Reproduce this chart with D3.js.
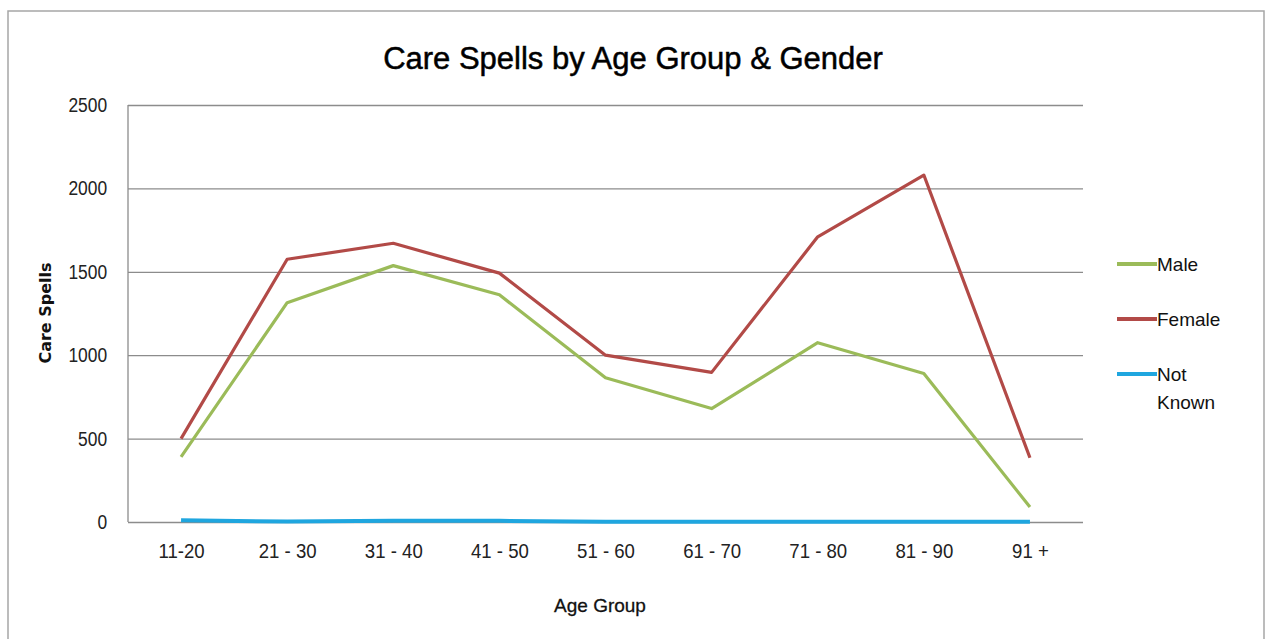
<!DOCTYPE html>
<html>
<head>
<meta charset="utf-8">
<script src="https://cdn.jsdelivr.net/npm/d3@7"></script>
<style>
  html, body { margin: 0; padding: 0; background: #fff; }
  svg { display: block; }
</style>
</head>
<body>
<div id="chart"></div>
<script>
// Care spells by age group and gender
var ageGroups = ['11-20', '21 - 30', '31 - 40', '41 - 50', '51 - 60', '61 - 70', '71 - 80', '81 - 90', '91 +'];
var male = [390, 1315, 1537, 1362, 865, 680, 1075, 890, 90];
var female = [500, 1575, 1671, 1492, 1000, 897, 1710, 2080, 385];
var notKnown = [10, 3, 8, 7, 2, 2, 2, 2, 2];
var yTicks = [0, 500, 1000, 1500, 2000, 2500];
var seriesNames = ['Male', 'Female', 'Not Known'];

var series = [
  { name: seriesNames[0], values: male, color: '#9bbb59' },
  { name: seriesNames[1], values: female, color: '#b24a47' },
  { name: seriesNames[2], values: notKnown, color: '#1fa6df' }
];

var width = 1266, height = 639;
var margin = { top: 105, right: 183, bottom: 117, left: 128 };
var font = '"Liberation Sans", Arial, sans-serif';

var svg = d3.select('#chart').append('svg')
  .attr('width', width)
  .attr('height', height);

// outer chart border
svg.append('rect')
  .attr('x', 8).attr('y', 11)
  .attr('width', 1256).attr('height', 660)
  .attr('fill', '#fff')
  .attr('stroke', '#a6a6a6')
  .attr('stroke-width', 1.5);

var x = d3.scalePoint().domain(ageGroups).range([margin.left, width - margin.right]).padding(0.5);
var y = d3.scaleLinear().domain([0, 2500]).range([height - margin.bottom, margin.top]);

// gridlines + y tick labels (narrowed to look like the condensed original)
svg.append('g')
  .attr('transform', 'translate(' + margin.left + ',0)')
  .call(d3.axisLeft(y).tickValues(yTicks).tickSize(-(width - margin.left - margin.right)).tickPadding(24).tickFormat(d3.format('d')))
  .call(function (g) { g.select('.domain').remove(); })
  .call(function (g) { g.selectAll('line').attr('stroke', '#8c8c8c').attr('stroke-width', 1.3); })
  .call(function (g) {
    g.selectAll('text').attr('font-family', font).attr('font-size', 20).attr('fill', '#222')
      .attr('transform', 'scale(0.87,1)');
  });

// left axis line
svg.append('line')
  .attr('x1', margin.left).attr('x2', margin.left)
  .attr('y1', y(2500)).attr('y2', y(0))
  .attr('stroke', '#8c8c8c').attr('stroke-width', 1.3);

// x axis labels
svg.append('g')
  .attr('transform', 'translate(0,' + (height - margin.bottom) + ')')
  .call(d3.axisBottom(x).tickSize(0).tickPadding(22))
  .call(function (g) { g.select('.domain').remove(); })
  .call(function (g) {
    g.selectAll('text').attr('font-family', font).attr('font-size', 20).attr('fill', '#222')
      .attr('transform', 'scale(0.93,1)');
  });

// lines
var line = d3.line()
  .x(function (d, i) { return x(ageGroups[i]); })
  .y(function (d) { return y(d); });

svg.selectAll('.series')
  .data(series)
  .join('path')
  .attr('class', 'series')
  .attr('fill', 'none')
  .attr('stroke', function (d) { return d.color; })
  .attr('stroke-width', function (d) { return d.name === 'Not Known' ? 4 : 3.2; })
  .attr('stroke-linejoin', 'round')
  .attr('d', function (d) { return line(d.values); });

// title
svg.append('text')
  .attr('x', 633).attr('y', 69)
  .attr('text-anchor', 'middle')
  .attr('font-family', font)
  .attr('font-size', 31)
  .attr('fill', '#000')
  .attr('stroke', '#000')
  .attr('stroke-width', 0.5)
  .text('Care Spells by Age Group & Gender');

// axis titles
svg.append('text')
  .attr('transform', 'translate(51,313) rotate(-90)')
  .attr('text-anchor', 'middle')
  .attr('font-family', '"DejaVu Sans", Verdana, sans-serif')
  .attr('font-weight', 'bold')
  .attr('font-size', 16)
  .attr('fill', '#111')
  .text('Care Spells');

svg.append('text')
  .attr('x', 600).attr('y', 612)
  .attr('text-anchor', 'middle')
  .attr('font-family', font)
  .attr('font-size', 19)
  .attr('fill', '#111')
  .attr('stroke', '#111')
  .attr('stroke-width', 0.3)
  .text('Age Group');

// legend
var legend = svg.append('g').attr('transform', 'translate(1117,264)');
series.forEach(function (s, i) {
  var row = legend.append('g').attr('transform', 'translate(0,' + (i * 55) + ')');
  row.append('line').attr('x1', 0).attr('x2', 40).attr('y1', 0).attr('y2', 0)
    .attr('stroke', s.color).attr('stroke-width', 4);
  var words = s.name.split(' ');
  row.selectAll('text')
    .data(words)
    .join('text')
    .attr('x', 40)
    .attr('y', function (d, j) { return 7 + j * 28; })
    .attr('font-family', font)
    .attr('font-size', 19)
    .attr('fill', '#111')
    .text(function (d) { return d; });
});
</script>
</body>
</html>
